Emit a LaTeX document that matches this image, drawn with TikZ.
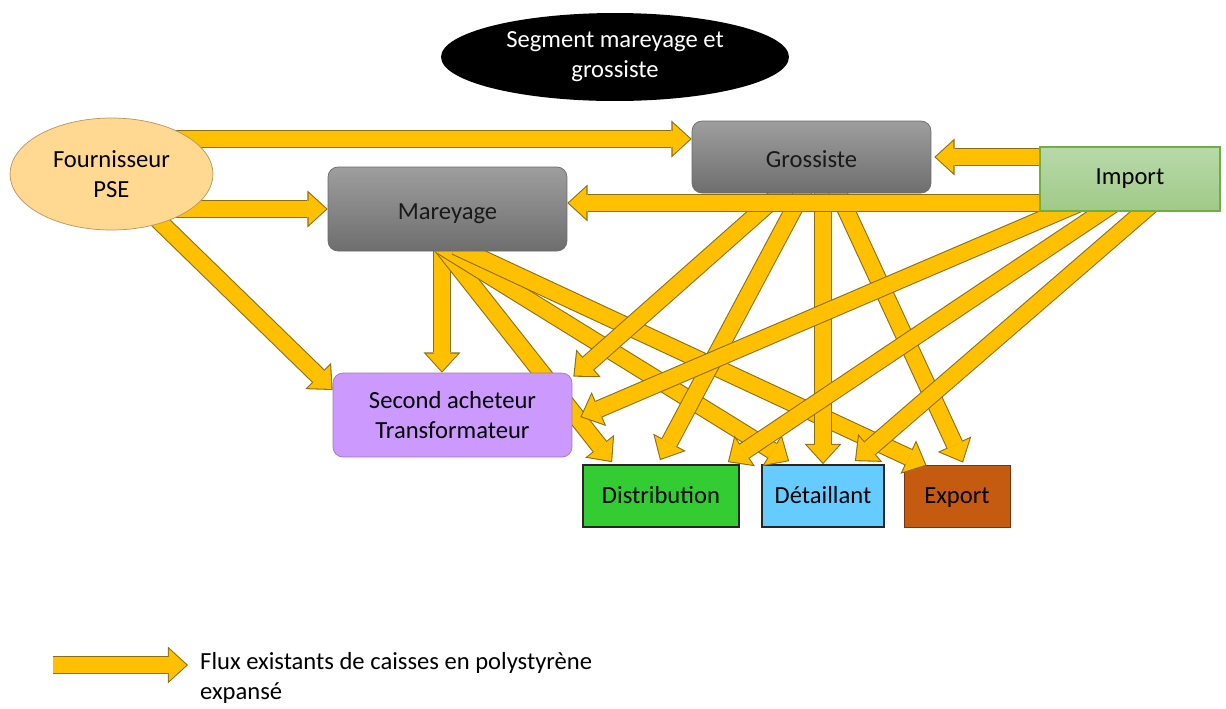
\documentclass[tikz,border=0pt]{standalone}
\usepackage{fontspec}
\setmainfont{Carlito}
\usetikzlibrary{positioning, arrows.meta, calc, backgrounds, shapes.geometric}
\definecolor{fluxY}{HTML}{FFC000}
\definecolor{fluxD}{HTML}{8C6E12}
\definecolor{fourF}{HTML}{FFD991}
\definecolor{fourD}{HTML}{B8955A}
\definecolor{grisT}{HTML}{9E9E9E}
\definecolor{grisB}{HTML}{6E6E6E}
\definecolor{grisD}{HTML}{6A6A6A}
\definecolor{impT}{HTML}{B8D9A9}
\definecolor{impB}{HTML}{A0CA88}
\definecolor{impD}{HTML}{70AD47}
\definecolor{secF}{HTML}{CC99FF}
\definecolor{secD}{HTML}{9A7AB8}
\definecolor{distG}{HTML}{33CC33}
\definecolor{detB}{HTML}{66CCFF}
\definecolor{expO}{HTML}{C55A11}

\begin{document}
\begin{tikzpicture}[
  x=0.02cm, y=-0.02cm,
  font=\fontsize{14}{17}\selectfont,
  every node/.style={align=center},
  flux/.style={draw=fluxY, line width=9pt, shorten >=0.9pt,
               -{Triangle[length=10pt, width=18.3pt, line width=0pt]},
               preaction={draw=fluxD, line width=10.2pt, shorten >=0pt,
                          -{Triangle[length=11.5pt, width=21pt, line width=0pt]}}},
  seg/.style={ellipse, fill=black, text=white, inner sep=0pt,
              minimum width=6.96cm, minimum height=1.76cm},
  four/.style={ellipse, draw=fourD, fill=fourF, inner sep=0pt,
               minimum width=4.06cm, minimum height=2.24cm},
  acteur/.style={rectangle, rounded corners=0.2cm, draw=grisD, top color=grisT,
                 bottom color=grisB, text=black!90, text height=11.5pt, text depth=0pt,
                 minimum width=4.78cm, minimum height=1.44cm},
  importbox/.style={draw=impD, line width=1.2pt, top color=impT, bottom color=impB,
                    minimum width=3.6cm, minimum height=1.28cm},
  second/.style={rounded corners=0.2cm, draw=secD, fill=secF,
                 minimum width=4.78cm, minimum height=1.68cm},
  dest/.style={draw=black!85, line width=1pt, text height=12pt, text depth=3pt,
               minimum height=1.24cm},
]
\useasboundingbox (0,0) rectangle (1226,708);

% ---------- title ----------
\node[seg] (segment) at (615,57) {Segment mareyage et\\grossiste};

% ---------- actors ----------
\node[four] (fournisseur) at (111.5,174) {Fournisseur\\PSE};
\node[acteur] (grossiste) at (811.5,157) {Grossiste};
\node[acteur, minimum height=1.68cm] (mareyage) at (447.5,209) {Mareyage};
\node[importbox] (import) at (1130,179) {Import};
\node[second] (second) at (452.5,415) {Second acheteur\\Transformateur};

\begin{scope}[on background layer]
% ---------- outlets ----------
\node[dest, fill=distG, minimum width=3.12cm] (distribution) at (661,496) {Distribution};
\node[dest, fill=detB, minimum width=2.44cm] (detaillant) at (823,496) {Détaillant};
\node[dest, fill=expO, draw=expO!60!black, line width=0.5pt, minimum width=2.12cm] (export) at (957,496) {Export};

% ---------- flows from the supplier ----------
\draw[flux] ($(fournisseur.center)+(40,-35)$) -- ($(grossiste.west)+(0,-18)$);
\draw[flux] ($(fournisseur.center)+(40,35)$) -- (mareyage.west);
\draw[flux] ($(fournisseur.center)+(28,28)$) -- ($(second.west)+(0,-25)$);

% ---------- flows from mareyage ----------
\draw[flux] ($(mareyage.south)+(-5.5,-5)$) -- ($(second.north)+(-10.5,0)$);
\draw[flux] ($(mareyage.south)+(-5.5,-5)$) -- ($(distribution.north west)+(30,-2)$);
\draw[flux] ($(mareyage.south)+(-5.5,-5)$) -- ($(detaillant.north west)+(28,-3)$);
\draw[flux] ($(mareyage.south)+(8,-5)$) -- ($(export.north west)+(23,1)$);

% ---------- flows from grossiste ----------
\draw[flux] ($(grossiste.center)+(10,0)$) -- ($(second.north east)+(1,4)$);
\draw[flux] ($(grossiste.center)+(10,0)$) -- ($(distribution.north)+(-1,-4)$);
\draw[flux] (detaillant.north |- grossiste.center) -- (detaillant.north);
\draw[flux] ($(grossiste.center)+(10,0)$) -- ($(export.north)+(6,-2)$);

% ---------- flows from import ----------
\draw[flux] ($(import.west)+(40,-22)$) -- ($(grossiste.east)+(3,0)$);
\draw[flux] ($(import.west)+(40,24)$) -- ($(mareyage.east)+(0,-6)$);
\draw[flux] ($(import.center)+(6,0)$) -- ($(second.east)+(8,2)$);
\draw[flux] ($(import.center)+(21,0)$) -- ($(distribution.north east)+(-12,-2)$);
\draw[flux] ($(import.center)+(51,0)$) -- ($(detaillant.north east)+(-30,-3)$);
\end{scope}

% ---------- legend ----------
\coordinate (legA) at (53,665);
\coordinate (legB) at (188,665);
\draw[flux] (legA) -- (legB);
\node[anchor=west, align=left] (legtext) at (194,678)
  {Flux existants de caisses en polystyrène\\expansé};

\end{tikzpicture}
\end{document}
